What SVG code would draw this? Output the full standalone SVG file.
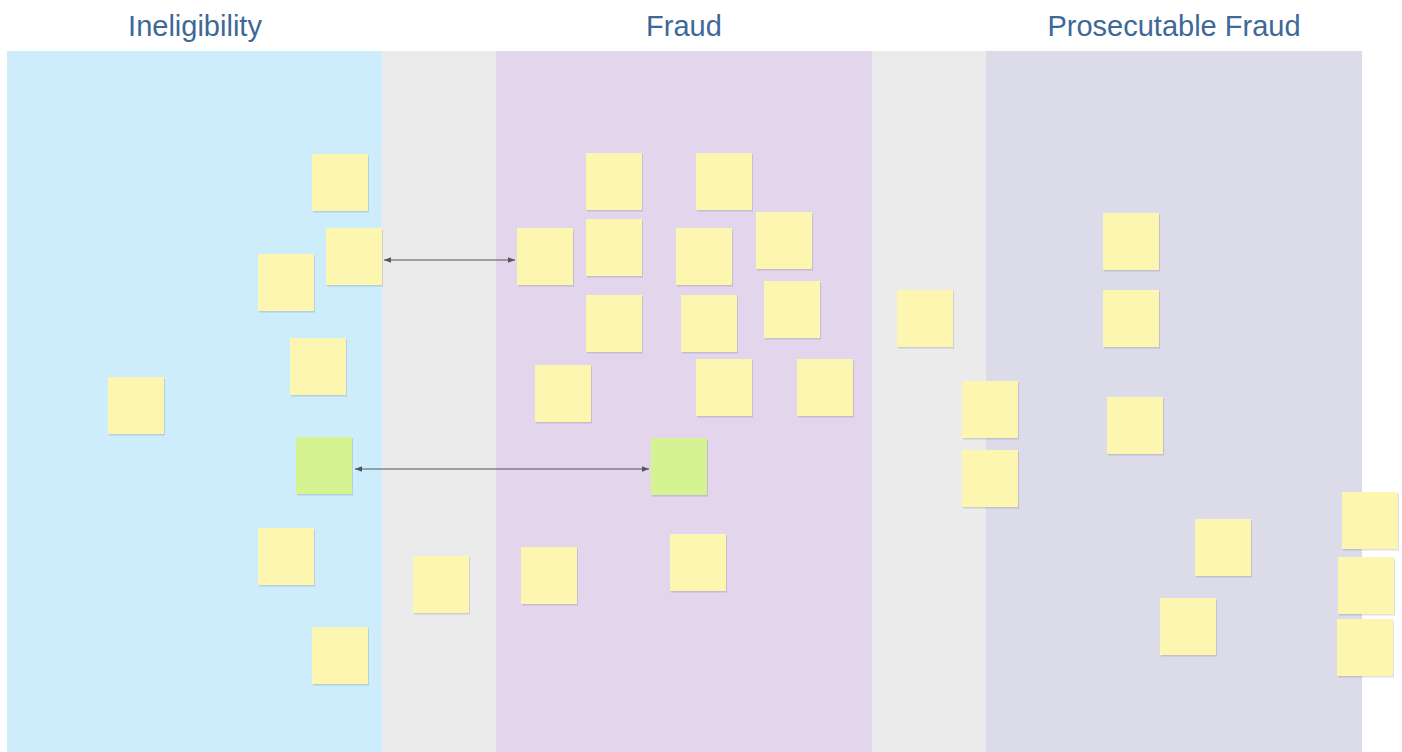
<svg xmlns="http://www.w3.org/2000/svg" width="1402" height="752" viewBox="0 0 1402 752">
<defs>
<style>
.title{font-family:"Liberation Sans",Arial,sans-serif;font-size:29px;fill:#3d6897;text-anchor:middle}
.note{fill:#fdf6b1}
.green{fill:#d6f393}
.shadow{fill:#000;opacity:0.12}
.conn{stroke:#555;stroke-width:1.2;fill:none}
</style>
<marker id="ah" viewBox="0 0 10 10" refX="10" refY="5" markerWidth="7" markerHeight="7" orient="auto-start-reverse" markerUnits="userSpaceOnUse">
<path d="M0,1 L10,5 L0,9 Z" fill="#555"/>
</marker>
<g id="sticky"><rect class="shadow" x="1" y="1.5" width="56" height="57"/><rect class="note" x="0" y="0" width="56" height="57"/></g>
<g id="stickyg"><rect class="shadow" x="1" y="1.5" width="56" height="57"/><rect class="green" x="0" y="0" width="56" height="57"/></g>
</defs>
<rect width="1402" height="752" fill="#ffffff"/>
<g id="lanes">
<rect x="7" y="51" width="375" height="701" fill="#cdedfc"/>
<rect x="382" y="51" width="114" height="701" fill="#ebebeb"/>
<rect x="496" y="51" width="376" height="701" fill="#e2d5ec"/>
<rect x="872" y="51" width="114" height="701" fill="#ebebeb"/>
<rect x="986" y="51" width="376" height="701" fill="#dcdbea"/>
</g>
<g id="titles">
<text class="title" x="195" y="36">Ineligibility</text>
<text class="title" x="684" y="36">Fraud</text>
<text class="title" x="1174" y="36">Prosecutable Fraud</text>
</g>
<g id="n1"><use href="#sticky" x="312" y="154"/></g>
<g id="n2"><use href="#sticky" x="326" y="228"/></g>
<g id="n3"><use href="#sticky" x="258" y="254"/></g>
<g id="n4"><use href="#sticky" x="290" y="338"/></g>
<g id="n5"><use href="#sticky" x="108" y="377"/></g>
<g id="n6"><use href="#stickyg" x="296" y="437"/></g>
<g id="n7"><use href="#sticky" x="258" y="528"/></g>
<g id="n8"><use href="#sticky" x="312" y="627"/></g>
<g id="n9"><use href="#sticky" x="413" y="556"/></g>
<g id="n10"><use href="#sticky" x="586" y="153"/></g>
<g id="n11"><use href="#sticky" x="696" y="153"/></g>
<g id="n12"><use href="#sticky" x="517" y="228"/></g>
<g id="n13"><use href="#sticky" x="586" y="219"/></g>
<g id="n14"><use href="#sticky" x="676" y="228"/></g>
<g id="n15"><use href="#sticky" x="756" y="212"/></g>
<g id="n16"><use href="#sticky" x="586" y="295"/></g>
<g id="n17"><use href="#sticky" x="681" y="295"/></g>
<g id="n18"><use href="#sticky" x="764" y="281"/></g>
<g id="n19"><use href="#sticky" x="535" y="365"/></g>
<g id="n20"><use href="#sticky" x="696" y="359"/></g>
<g id="n21"><use href="#sticky" x="797" y="359"/></g>
<g id="n22"><use href="#stickyg" x="651" y="438"/></g>
<g id="n23"><use href="#sticky" x="521" y="547"/></g>
<g id="n24"><use href="#sticky" x="670" y="534"/></g>
<g id="n25"><use href="#sticky" x="897" y="290"/></g>
<g id="n26"><use href="#sticky" x="962" y="381"/></g>
<g id="n27"><use href="#sticky" x="962" y="450"/></g>
<g id="n28"><use href="#sticky" x="1103" y="213"/></g>
<g id="n29"><use href="#sticky" x="1103" y="290"/></g>
<g id="n30"><use href="#sticky" x="1107" y="397"/></g>
<g id="n31"><use href="#sticky" x="1195" y="519"/></g>
<g id="n32"><use href="#sticky" x="1160" y="598"/></g>
<g id="n33"><use href="#sticky" x="1342" y="492"/></g>
<g id="n34"><use href="#sticky" x="1338" y="557"/></g>
<g id="n35"><use href="#sticky" x="1337" y="619"/></g>
<g id="connectors">
<line class="conn" x1="384" y1="260" x2="515" y2="260" marker-start="url(#ah)" marker-end="url(#ah)"/>
<line class="conn" x1="355" y1="469" x2="649" y2="469" marker-start="url(#ah)" marker-end="url(#ah)"/>
</g>
</svg>
